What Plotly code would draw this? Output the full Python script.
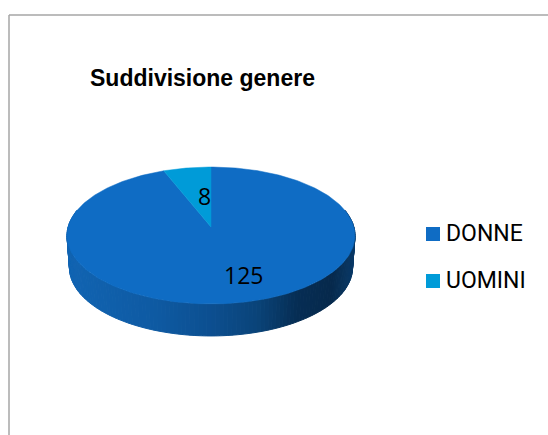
import math
import plotly.graph_objects as go

# --- data ---
categories = ["DONNE", "UOMINI"]
values = [125, 8]
title_text = "Suddivisione genere"

# --- style / layout ---
slice_colors = ["#0F6CC4", "#009BD8"]
side_stops = [(0.0, "#1164B2"), (0.3, "#0E5AA3"), (0.5, "#0C4F90"), (0.66, "#0A4479"),
              (0.8, "#062D54"), (0.92, "#06294C"), (1.0, "#0A3A68")]
W, H = 548, 435
CX, CY = 211, 227      # pie centre as seen on screen
A, B, K = 142.9, 67.4, -0.124  # perspective of the pie's disc
DEPTH, BOTTOM_SCALE = 32, 0.983
LABEL_XY = [(243, 275), (204, 196)]
LEGEND_X, LEGEND_Y = 433, [234, 281]


def rim(theta_deg, scale=1.0, drop=0.0, r=1.0):
    t = math.radians(theta_deg)
    u, v = r * math.sin(t), r * math.cos(t)
    d = 1 - K * v
    return CX + scale * A * u / d, CY - B * v / d + drop


def hex2rgb(h):
    return tuple(int(h[i:i + 2], 16) for i in (1, 3, 5))


def side_color(f):
    f = min(max(f, 0), 1)
    for (f0, c0), (f1, c1) in zip(side_stops, side_stops[1:]):
        if f <= f1:
            w = (f - f0) / (f1 - f0)
            a, b = hex2rgb(c0), hex2rgb(c1)
            return "rgb(%d,%d,%d)" % tuple(round(a[i] + w * (b[i] - a[i])) for i in range(3))
    return side_stops[-1][1]


fig = go.Figure()

# side wall, drawn as narrow strips from right to left
STEP = 1.5
n = int((285 - 75) / STEP)
for i in range(n):
    t0, t1 = 75 + i * STEP, 75 + (i + 1) * STEP
    p = [rim(t0), rim(t1), rim(t1, BOTTOM_SCALE, DEPTH), rim(t0, BOTTOM_SCALE, DEPTH), rim(t0)]
    col = side_color((p[0][0] + p[1][0]) / 2 / 289 - 66 / 289)
    fig.add_trace(go.Scatter(x=[q[0] for q in p], y=[q[1] for q in p], mode="lines", fill="toself",
                             fillcolor=col, line=dict(color=col, width=1), hoverinfo="skip",
                             showlegend=False))

# top surface slices, angles from the values
total = sum(values)
start = 0.0
for name, val, col, (lx, ly) in zip(categories, values, slice_colors, LABEL_XY):
    sweep = 360 * val / total
    steps = max(int(sweep), 2)
    pts = [rim(0, r=0)] + [rim(start + sweep * j / steps) for j in range(steps + 1)] + [rim(0, r=0)]
    fig.add_trace(go.Scatter(x=[q[0] for q in pts], y=[q[1] for q in pts], mode="lines", fill="toself",
                             fillcolor=col, line=dict(color=col, width=0.5), name=name,
                             hoverinfo="name", showlegend=False))
    fig.add_annotation(x=lx, y=ly, text=str(val), showarrow=False,
                       font=dict(family="Open Sans", size=23, color="#000000"))
    start += sweep

# legend
for name, col, ly in zip(categories, slice_colors, LEGEND_Y):
    fig.add_trace(go.Scatter(x=[LEGEND_X], y=[ly], mode="markers", name=name, hoverinfo="name",
                             marker=dict(symbol="square", size=14, color=col), showlegend=False))
    fig.add_annotation(x=444, y=ly - 1, text=name, showarrow=False, xanchor="left",
                       font=dict(family="Roboto", size=23, color="#000000"))

fig.add_annotation(x=202, y=78, text="<b>%s</b>" % title_text, showarrow=False,
                   font=dict(family="Liberation Sans", size=23, color="#000000"))

fig.update_layout(
    width=W, height=H, margin=dict(l=0, r=0, t=0, b=0),
    paper_bgcolor="#ffffff", plot_bgcolor="#ffffff", showlegend=False,
    xaxis=dict(range=[0, W], visible=False, fixedrange=True),
    yaxis=dict(range=[H, 0], visible=False, fixedrange=True),
    shapes=[
        dict(type="line", x0=9, x1=W, y0=15, y1=15, line=dict(color="#A6A6A6", width=1.5)),
        dict(type="line", x0=9, x1=9, y0=15, y1=H, line=dict(color="#A6A6A6", width=1.5)),
    ],
)
fig.write_html("out.html", config={"displayModeBar": False},
               post_script="document.body.style.margin='0';document.documentElement.style.overflow='hidden';")
